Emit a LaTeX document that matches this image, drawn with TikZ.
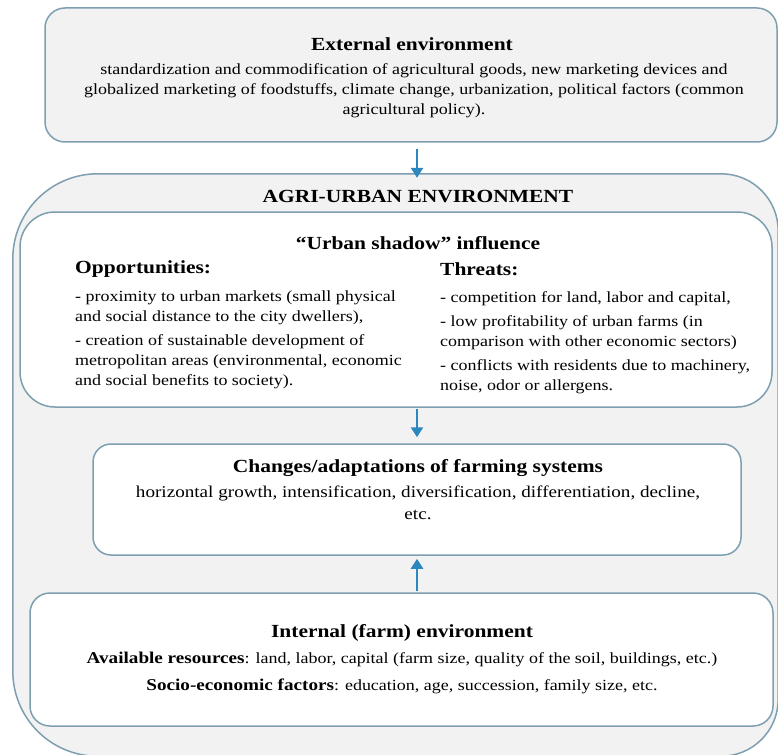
\documentclass[tikz,border=0pt]{standalone}
\usepackage{fontspec}
\setmainfont{Liberation Serif}[FakeStretch=1.16]
\usetikzlibrary{positioning,arrows.meta}

\definecolor{boxedge}{HTML}{7D9FB0}
\definecolor{flowblue}{HTML}{2C87BF}
\definecolor{panelgray}{HTML}{F2F2F2}

\tikzset{
  panel/.style={draw=boxedge, line width=1.5pt, inner sep=0pt, rounded corners=#1},
  panel/.default=20pt,
  flow/.style={-{Triangle[length=10pt,width=12pt]}, draw=flowblue, line width=2.5pt},
  headtext/.style={font=\fontsize{18.5}{22}\selectfont\bfseries, inner sep=0pt},
  bodytext/.style={font=\fontsize{15.5}{20}\selectfont, inner sep=0pt, align=center},
}

\begin{document}
\begin{tikzpicture}[x=1pt, y=-1pt]

    \useasboundingbox (0,0) rectangle (778,754);

    % external environment
    \node[panel, fill=panelgray, minimum width=732pt, minimum height=134pt] (ext) at (411,75) {};
    \node[headtext] (exttitle) at (412,44) {External environment};
    \node[bodytext] (extbody) at (414,91) {standardization and commodification of agricultural goods, new marketing devices and\\
      globalized marketing of foodstuffs, climate change, urbanization, political factors (common\\
      agricultural policy).};

    % agri-urban environment (outer frame, wider corners on the left)
    \node[minimum width=765pt, minimum height=582pt, inner sep=0pt] (agri) at (395.5,465) {};
    \draw[draw=boxedge, line width=1.5pt, fill=panelgray]
      ([xshift=-57pt]agri.north east) arc[start angle=270, end angle=360, radius=57]
      -- ([yshift=57pt]agri.south east) arc[start angle=0, end angle=90, radius=57]
      -- ([xshift=85pt]agri.south west) arc[start angle=90, end angle=180, radius=85]
      -- ([yshift=-85pt]agri.north west) arc[start angle=180, end angle=270, radius=85]
      -- cycle;
    \node[headtext] (agrititle) at (418,197) {AGRI-URBAN ENVIRONMENT};

    % urban shadow
    \node[panel=35pt, fill=white, minimum width=752pt, minimum height=195pt] (shadow) at (396,309.5) {};
    \node[headtext] (shadowtitle) at (418,243) {“Urban shadow” influence};
    \node[headtext, anchor=west] (opptitle) at (75,269) {Opportunities:};
    \node[headtext, anchor=west] (threattitle) at (440,269) {Threats:};
    \node[bodytext, align=left, anchor=north west] (opps) at (75,291) {- proximity to urban markets (small physical\\
      and social distance to the city dwellers),\\[4pt]
      - creation of sustainable development of\\
      metropolitan areas (environmental, economic\\
      and social benefits to society).};
    \node[bodytext, align=left, anchor=north west] (threats) at (440,291) {- competition for land, labor and capital,\\[4pt]
      - low profitability of urban farms (in\\
      comparison with other economic sectors)\\[4pt]
      - conflicts with residents due to machinery,\\
      noise, odor or allergens.};

    % changes of farming systems
    \node[panel=18pt, fill=white, minimum width=648pt, minimum height=111pt] (changes) at (417,499.5) {};
    \node[headtext] (changestitle) at (418,468) {Changes/adaptations of farming systems};
    \node[bodytext, font=\fontsize{16.5}{22}\selectfont] (changesbody) at (418,503) {horizontal growth, intensification, diversification, differentiation, decline,\\
      etc.};

    % internal environment
    \node[panel, fill=white, minimum width=743pt, minimum height=133pt] (internal) at (401.5,659.5) {};
    \node[headtext] (internaltitle) at (402,633) {Internal (farm) environment};
    \node[bodytext] (internalbody) at (402,673) {{\bfseries\fontsize{16.5}{20}\selectfont Available resources}: land, labor, capital (farm size, quality of the soil, buildings, etc.)\\[7pt]
      {\bfseries\fontsize{16.5}{20}\selectfont Socio-economic factors}: education, age, succession, family size, etc.};

    % arrows
    \draw[flow, shorten <=6pt, shorten >=-4pt] (ext.south -| changes.north) -- (agri.north -| changes.north);
    \draw[flow, shorten <=1pt, shorten >=6pt] (shadow.south -| changes.north) -- (changes.north);
    \draw[flow, shorten <=1pt, shorten >=3pt] (internal.north -| changes.south) -- (changes.south);

\end{tikzpicture}
\end{document}
